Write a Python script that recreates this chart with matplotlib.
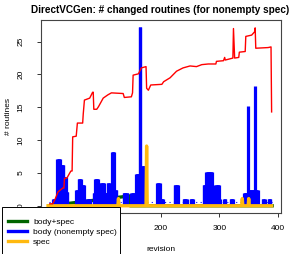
import numpy as np
import matplotlib
matplotlib.use("Agg")
import matplotlib.pyplot as plt
from matplotlib.patches import Rectangle

plt.rcParams['font.family'] = ['Liberation Sans', 'DejaVu Sans']

# revision range of the series
rev_first = 10
rev_last = 390

# red line: cumulative changed routines (rev, value)
red_rev = [11, 16, 20, 25, 33, 35, 36, 40, 45, 47, 49, 50, 56, 58, 67, 68, 70, 79, 84, 85,
           86, 91, 94, 102, 110, 116, 136, 138, 150, 152, 153, 162, 167, 175, 176, 179, 183,
           202, 205, 216, 227, 238, 250, 261, 270, 281, 294, 295, 307, 309, 310, 323, 324,
           326, 333, 334, 344, 345, 355, 360, 361, 362, 383, 388, 389]
red_val = [0.3, 0.3, 1.0, 2.1, 2.7, 2.7, 4.2, 4.2, 5.0, 5.3, 5.3, 10.5, 10.6, 12.6, 12.6, 14.0,
           16.1, 16.4, 17.3, 17.3, 14.7, 14.7, 15.1, 16.4, 16.9, 17.2, 17.1, 16.5, 16.6, 17.2,
           19.9, 20.1, 21.0, 21.2, 17.9, 17.6, 18.4, 18.5, 18.9, 19.5, 20.5, 21.0, 21.3, 21.2,
           21.5, 21.6, 21.6, 22.0, 22.1, 22.6, 22.2, 22.5, 27.0, 22.5, 22.6, 23.4, 23.5, 25.8,
           26.0, 26.5, 27.1, 24.0, 24.1, 24.2, 14.3]

# body (nonempty spec): value holds from rev until next breakpoint
body_rev = [10, 17, 24, 29, 35, 39, 42, 56, 60, 65, 70, 75, 80, 86, 88, 94, 98, 104, 110, 114,
            117, 121, 125, 137, 144, 150, 156, 158, 164, 166, 168, 173, 194, 199, 205, 224, 230,
            239, 245, 251, 256, 273, 278, 288, 290, 294, 300, 302, 308, 311, 319, 324, 342,
            349, 350, 361, 362, 366, 374, 378, 384, 388, 390]
body_val = [0, 1.1, 7.2, 6.2, 4.4, 2.1, 0, 2.4, 4.1, 3.1, 0, 1.1, 0, 1.9, 4.1, 2.4, 3.4, 1.9,
            3.4, 2.4, 8.2, 2.4, 0, 2.0, 0, 2.0, 0, 4.9, 27.2, 3.0, 6.0, 0, 3.4, 1.1, 0, 3.1, 0,
            1.1, 0, 1.1, 0, 3.1, 5.1, 3.1, 0, 3.1, 1.1, 0, 1.1, 0, 1.1, 0, 2.0, 15.2, 2.4, 18.2,
            2.4, 0, 1.1, 0, 1.1, 0, 0]

# body+spec
both_rev = [10, 147, 148, 390]
both_val = [0, 1.5, 0, 0]

# spec
spec_rev = [8, 127, 128, 129, 175, 176, 177, 338, 339, 340, 349, 350, 351, 389]
spec_val = [0, 0, 1.1, 0, 0, 9.1, 0, 0, 1.1, 0, 0, 1.1, 0, 0]

body_mean = 0.6

# per-revision body values from the breakpoints
body_x = np.arange(body_rev[0], body_rev[-1])
body_y = np.zeros(len(body_x))
for i in range(len(body_rev) - 1):
    body_y[(body_x >= body_rev[i]) & (body_x < body_rev[i + 1])] = body_val[i]

fig = plt.figure(figsize=(2.94, 2.54), dpi=100)
ax = fig.add_axes([41 / 294, 41 / 254, 240 / 294, 193 / 254])

ax.plot([rev_first, rev_last], [body_mean, body_mean], color='blue', lw=0.8,
        linestyle=(0, (1, 3)))
ax.plot(both_rev, both_val, color='#006400', lw=2.4, label='body+spec')
ax.vlines(body_x, 0, body_y, color='blue', lw=2.3, capstyle='butt')
ax.plot([], [], color='blue', lw=2.4, label='body (nonempty spec)')
ax.plot(spec_rev, spec_val, color='#FFB90F', lw=2.4, label='spec')
ax.plot(red_rev, red_val, color='red', lw=1.0)

ax.set_xlim(-4, 405)
ax.set_ylim(-1.1, 28.3)
ax.set_xticks([0, 100, 200, 300, 400])
ax.set_xticklabels(['', '', '200', '300', '400'])
ax.set_yticks([0, 5, 10, 15, 20, 25])
ax.tick_params(direction='out', length=3, width=0.7, labelsize=6, colors='#333333',
               labelcolor='black')
ax.tick_params(axis='x', pad=6)
ax.tick_params(axis='y', pad=9)
for lab in ax.get_yticklabels():
    lab.set_rotation(90)
    lab.set_va('center')
for s in ax.spines.values():
    s.set_linewidth(0.8)
    s.set_color('#444444')

ax.set_xlabel('revision', fontsize=6, labelpad=10)
ax.set_ylabel('# routines', fontsize=6, labelpad=4)
fig.text(160 / 294, 1 - 10 / 254, 'DirectVCGen: # changed routines (for nonempty spec)',
         ha='center', va='center', fontsize=7.2, fontweight='bold')

# legend box hanging over the bottom-left corner, as in the R output
fig.patches.append(Rectangle((2 / 294, -0.1), 118 / 294, 0.1 + 47 / 254,
                             transform=fig.transFigure, facecolor='white',
                             edgecolor='black', lw=0.7, zorder=5))
handles, labels = ax.get_legend_handles_labels()
leg = fig.legend(handles, labels, loc='upper left', bbox_to_anchor=(8 / 294, 1 - 218 / 254),
                 bbox_transform=fig.transFigure, fontsize=6, frameon=False,
                 handlelength=2.3, handletextpad=0.7, labelspacing=0.25, borderpad=0,
                 borderaxespad=0)
leg.set_zorder(6)

fig.savefig('out.png', dpi=100)
